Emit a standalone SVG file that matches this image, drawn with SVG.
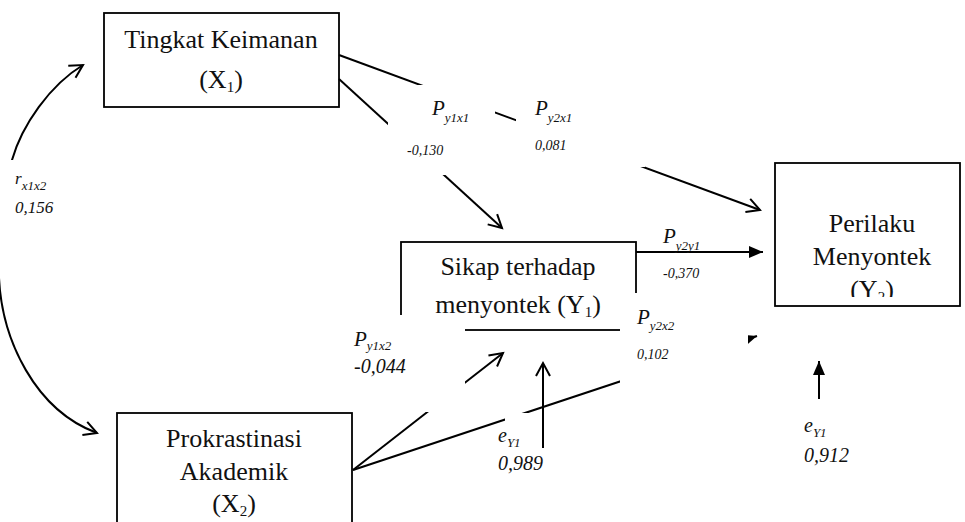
<svg xmlns="http://www.w3.org/2000/svg" width="965" height="522" viewBox="0 0 965 522">
<style>
.box{fill:#fff;stroke:#000;stroke-width:1.8}
.ln{fill:none;stroke:#000;stroke-width:2}
.nt{font-family:"Liberation Serif","Times New Roman",serif;font-size:26px;fill:#111;text-anchor:middle}
.lb{font-family:"Liberation Serif","Times New Roman",serif;font-style:italic;fill:#111}
.P{font-size:21px}
.sub{font-size:13px}
.sm{font-size:14px}
.md{font-size:20px}
.cover{fill:#fff;stroke:none}
</style>
<defs>
<marker id="open" markerUnits="userSpaceOnUse" markerWidth="20" markerHeight="20" refX="14" refY="7" orient="auto-start-reverse" overflow="visible">
<path d="M1,0 L14,7 L1,14" fill="none" stroke="#000" stroke-width="2"/>
</marker>
<marker id="solid" markerUnits="userSpaceOnUse" markerWidth="16" markerHeight="14" refX="14" refY="6" orient="auto" overflow="visible">
<path d="M0,0 L14,6 L0,12 Z" fill="#000"/>
</marker>
<clipPath id="y2clip"><rect x="775" y="163" width="186" height="134"/></clipPath>
</defs>

<g id="node-x1">
<rect class="box" x="104" y="13" width="235" height="94"/>
<text class="nt" x="221" y="48">Tingkat Keimanan</text>
<text class="nt" x="221" y="88">(X<tspan font-size="15" dy="4">1</tspan><tspan dy="-4">)</tspan></text>
</g>
<g id="node-y1">
<rect class="box" x="401" y="242" width="235" height="88"/>
<text class="nt" x="518" y="275">Sikap terhadap</text>
<text class="nt" x="518" y="313">menyontek (Y<tspan font-size="15" dy="4">1</tspan><tspan dy="-4">)</tspan></text>
</g>
<g id="node-x2">
<rect class="box" x="117" y="413" width="235" height="120"/>
<text class="nt" x="234" y="447">Prokrastinasi</text>
<text class="nt" x="234" y="480">Akademik</text>
<text class="nt" x="234" y="512">(X<tspan font-size="15" dy="4">2</tspan><tspan dy="-4">)</tspan></text>
</g>
<g id="node-y2">
<rect class="box" x="775" y="163" width="185" height="143"/>
<g clip-path="url(#y2clip)">
<text class="nt" x="872" y="232">Perilaku</text>
<text class="nt" x="872" y="265">Menyontek</text>
<text class="nt" x="872" y="298">(Y<tspan font-size="15" dy="4">2</tspan><tspan dy="-4">)</tspan></text>
</g>
</g>

<g id="connectors">
<path class="ln" d="M83,65 C50,85 22,125 12,160 C5,190 -2,230 -1,278 C2,340 35,410 97,433" marker-start="url(#open)" marker-end="url(#open)"/>
<line class="ln" x1="339" y1="55" x2="760" y2="210" marker-end="url(#open)"/>
<line class="ln" x1="339" y1="79" x2="502" y2="228" marker-end="url(#open)"/>
<line class="ln" x1="636" y1="252" x2="763" y2="252" marker-end="url(#solid)"/>
<line class="ln" x1="353" y1="470" x2="503" y2="353" marker-end="url(#open)"/>
<line class="ln" x1="353" y1="470" x2="757" y2="336" marker-end="url(#solid)"/>
</g>

<g id="labels">
<rect class="cover" x="0" y="160" width="70" height="118"/>
<text class="lb" x="15" y="184" font-size="17">r<tspan class="sub" dy="6">x1x2</tspan></text>
<text class="lb" x="15" y="213" font-size="17">0,156</text>

<rect class="cover" x="388" y="85" width="107" height="90"/>
<text class="lb P" x="432" y="115">P<tspan class="sub" dy="7">y1x1</tspan></text>
<text class="lb sm" x="407" y="155">-0,130</text>

<rect class="cover" x="516" y="95" width="129" height="72"/>
<text class="lb P" x="535" y="115">P<tspan class="sub" dy="7">y2x1</tspan></text>
<text class="lb sm" x="535" y="150">0,081</text>

<text class="lb P" x="663" y="243">P<tspan class="sub" dy="7">y2y1</tspan></text>
<text class="lb sm" x="663" y="278">-0,370</text>

<rect class="cover" x="345" y="315" width="120" height="97"/>
<text class="lb P" x="354" y="346">P<tspan class="sub" dy="4">y1x2</tspan></text>
<text class="lb md" x="354" y="373">-0,044</text>

<rect class="cover" x="620" y="293" width="128" height="95"/>
<text class="lb P" x="637" y="324">P<tspan class="sub" dy="6">y2x2</tspan></text>
<text class="lb sm" x="637" y="359">0,102</text>

<rect class="cover" x="505" y="413" width="70" height="60"/>
<text class="lb md" x="498" y="442">e<tspan class="sub" dy="5">Y1</tspan></text>
<text class="lb md" x="498" y="470">0,989</text>

<text class="lb md" x="804" y="432">e<tspan class="sub" dy="5">Y1</tspan></text>
<text class="lb md" x="804" y="462">0,912</text>
</g>

<g id="error-arrows">
<line class="ln" x1="543" y1="448" x2="543" y2="363" marker-end="url(#open)"/>
<line class="ln" x1="819" y1="399" x2="819" y2="361" marker-end="url(#solid)"/>
</g>
</svg>
